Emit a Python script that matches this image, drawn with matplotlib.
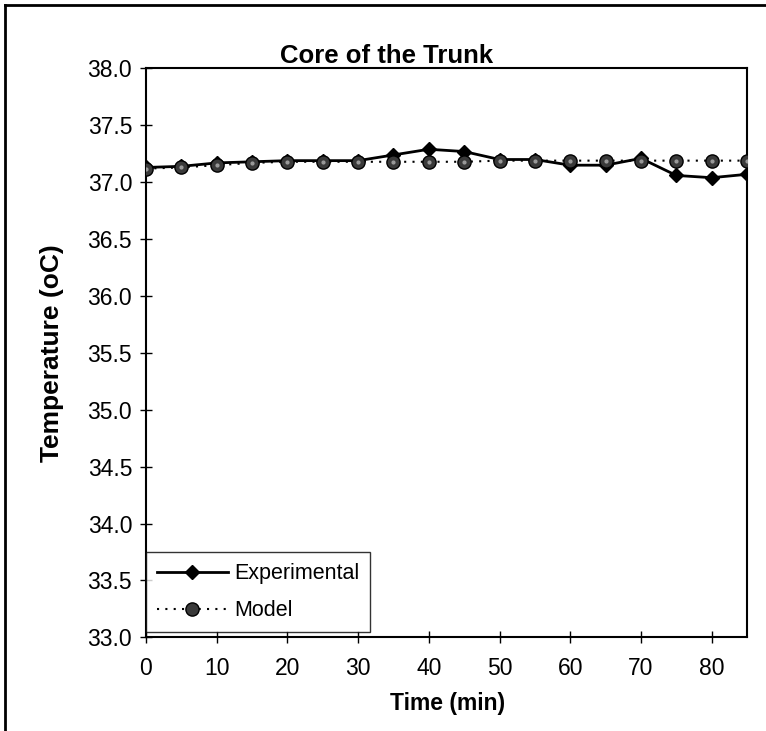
import matplotlib
matplotlib.use('Agg')
from matplotlib import pyplot as plt
from matplotlib.lines import Line2D

# data
time_min = [0, 5, 10, 15, 20, 25, 30, 35, 40, 45, 50, 55, 60, 65, 70, 75, 80, 85]
experimental = [37.13, 37.14, 37.17, 37.18, 37.19, 37.19, 37.19, 37.24, 37.29, 37.27,
                37.20, 37.20, 37.15, 37.15, 37.21, 37.06, 37.04, 37.07]
model = [37.12, 37.13, 37.15, 37.17, 37.18, 37.18, 37.18, 37.18, 37.18, 37.18,
         37.19, 37.19, 37.19, 37.19, 37.19, 37.19, 37.19, 37.19]
x_ticks = [0, 10, 20, 30, 40, 50, 60, 70, 80]
y_ticks = [33.0, 33.5, 34.0, 34.5, 35.0, 35.5, 36.0, 36.5, 37.0, 37.5, 38.0]

plt.rcParams['font.family'] = ['Liberation Sans', 'DejaVu Sans']

fig = plt.figure(figsize=(7.66, 7.31), dpi=100)
ax = fig.add_axes([0.1906, 0.1282, 0.7846, 0.7781])

ax.plot(time_min, experimental, color='black', lw=2, marker='D', markersize=7,
        label='Experimental', zorder=3)
ax.plot(time_min, model, color='black', lw=1.5, linestyle=(0, (1, 3)), marker='o',
        markersize=9.5, markerfacecolor='#3a3a3a', markeredgecolor='black',
        label='Model', zorder=4)
ax.plot(time_min, model, linestyle='none', marker='o', markersize=2,
        color='#9a9a9a', zorder=5)

ax.set_xlim(0, 85)
ax.set_ylim(33.0, 38.0)
ax.set_xticks(x_ticks)
ax.set_yticks(y_ticks)
ax.set_yticklabels([f'{v:.1f}' for v in y_ticks])
ax.tick_params(axis='x', direction='inout', length=8.5, width=1, labelsize=16.5, pad=10)
ax.tick_params(axis='y', direction='inout', length=8, width=1, labelsize=16.5, pad=6)
for s in ax.spines.values():
    s.set_linewidth(1.5)

ax.set_xlabel('Time (min)', fontsize=16.5, fontweight='bold')
ax.xaxis.set_label_coords(0.502, -0.097)
ax.set_ylabel('Temperature (oC)', fontsize=19, fontweight='bold')
ax.yaxis.set_label_coords(-0.136, 0.5)

fig.text(387 / 766, 1 - 56 / 731, 'Core of the Trunk', fontsize=18.5, fontweight='bold',
         ha='center', va='center')

leg = ax.legend(loc='lower left', bbox_to_anchor=(0.0, 0.009), borderaxespad=0,
                fontsize=15.5, fancybox=False, frameon=True, handlelength=3.3,
                borderpad=0.5, labelspacing=0.75, handletextpad=0.3)
leg.get_frame().set_edgecolor('black')
leg.get_frame().set_linewidth(1)

# outer frame of the chart
fig.add_artist(Line2D([5 / 766, 5 / 766], [0, 1 - 5 / 731], transform=fig.transFigure,
                      color='black', lw=2))
fig.add_artist(Line2D([5 / 766, 1], [1 - 5 / 731, 1 - 5 / 731], transform=fig.transFigure,
                      color='black', lw=2))

fig.savefig('out.png', dpi=100)
